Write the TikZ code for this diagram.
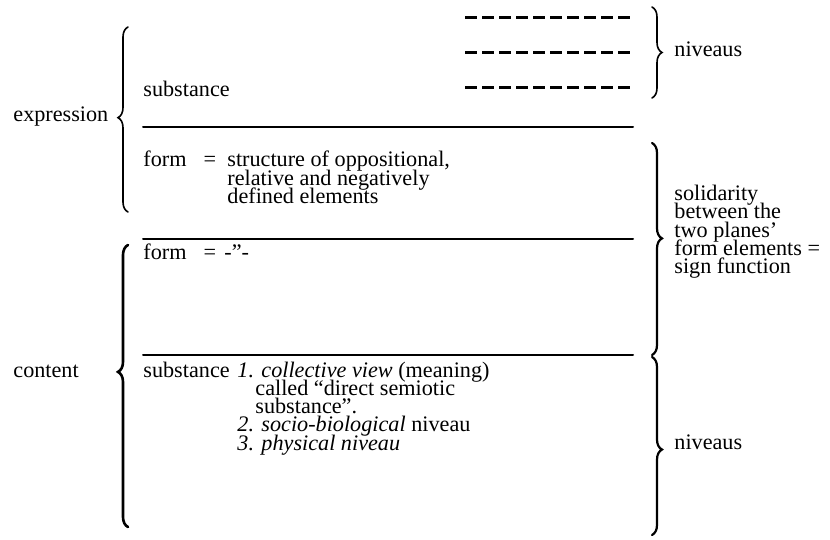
\documentclass[tikz,border=0pt]{standalone}
\usepackage{fontspec}
\setmainfont{Liberation Serif}
\usetikzlibrary{decorations.pathreplacing}
\lineskiplimit=-20pt
\begin{document}
\begin{tikzpicture}[x=0.5pt, y=-0.5pt, line cap=round, font=\fontsize{11.1}{9.15}\selectfont]
	\tikzset{txt/.style={anchor=base west, inner sep=0pt, align=left},
		rule/.style={line width=1pt},
		lvl/.style={line width=1.5pt, line cap=butt, dash pattern=on 6pt off 2.5pt},
		brc/.style={decorate, decoration={brace, amplitude=5pt, aspect=#1}, line width=0.8pt},
		brc/.default=0.5}
	\useasboundingbox (0,0) rectangle (830,540);
	% expression plane
	\node[txt] (expr) at (13,122) {expression};
	\node[txt] (subE) at (143,97) {substance};
	\node[txt] (formE) at (143,167) {form\hspace{8.5pt}=};
	\node[txt] (formEtxt) at (227,203.6) {structure of oppositional,\\relative and negatively\\defined elements};
	\foreach \y/\n in {18/a,53/b,88/c}
		\draw[lvl] (465,\y) coordinate (l\n) -- (633,\y) coordinate (r\n);
	\coordinate (s1a) at (143,127); \coordinate (s1b) at (633,127);
	\draw[rule] (s1a) -- (s1b);
	% content plane
	\coordinate (s2a) at (143,239); \coordinate (s2b) at (633,239);
	\draw[rule] (s2a) -- (s2b);
	\node[txt] (formC) at (143,259) {form\hspace{8.5pt}=};
	\node[txt] (ditto) at (224,259) {-"-};
	\coordinate (s3a) at (143,355); \coordinate (s3b) at (633,355);
	\draw[rule] (s3a) -- (s3b);
	\node[txt] (cont) at (13,377) {content};
	\node[txt] (subC) at (143,377) {substance};
	\node[txt] (subCtxt) at (237,450.2) {\textit{1. collective view} (meaning)\\
		\hspace*{9pt}called “direct semiotic\\\hspace*{9pt}substance”.\\
		\textit{2. socio-biological} niveau\\\textit{3. physical niveau}};
	% braces
	\draw[brc=0.51] (128,212) -- (128,27);
	\draw[brc=0.55, line width=1.3pt] (128,527) -- (128,245);
	\draw[brc] (652,7) -- (652,98);
	\draw[brc=0.45, line width=1.1pt] (652,143) -- (652,355);
	\draw[brc=0.52, line width=1.1pt] (652,357) -- (652,535);
	\node[txt] (nivT) at (674,57) {niveaus};
	\node[txt] (sol) at (674,273.6) {solidarity\\between the\\two planes’\\form elements =\\sign function};
	\node[txt] (nivB) at (674,449) {niveaus};
\end{tikzpicture}
\end{document}
